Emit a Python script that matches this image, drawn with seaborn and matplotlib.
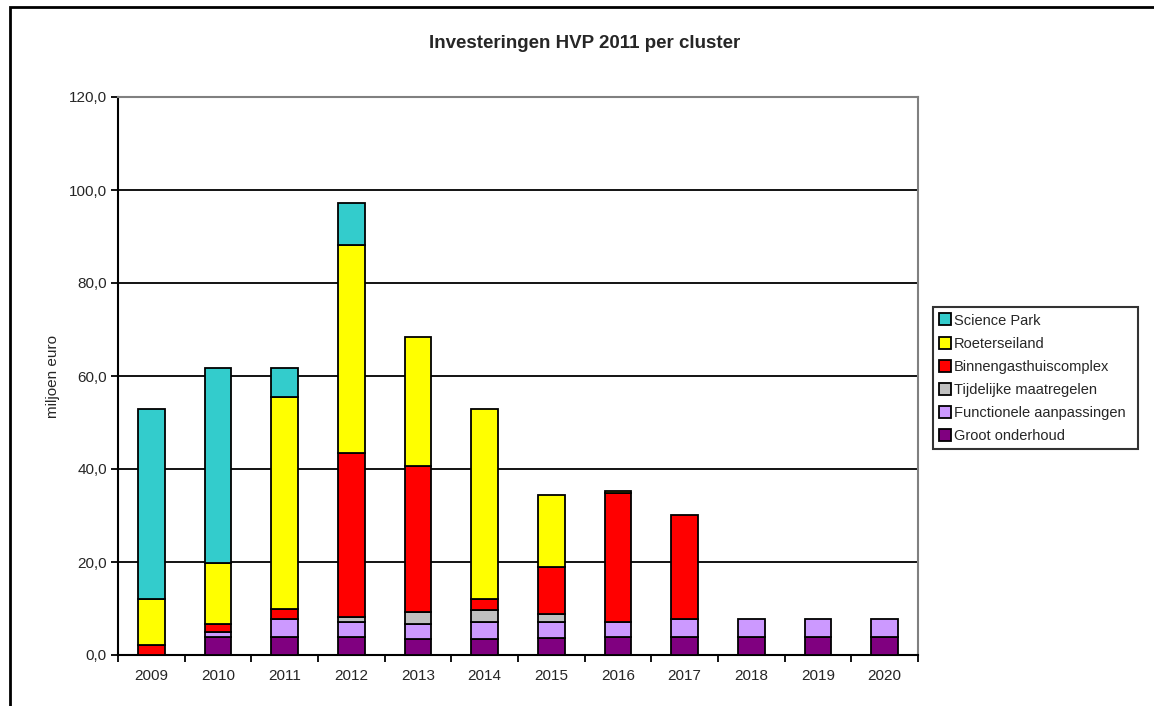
import numpy as np
import pandas as pd
import matplotlib
matplotlib.use("Agg")
import matplotlib.pyplot as plt
import seaborn as sns
from matplotlib.lines import Line2D
from matplotlib.patches import Rectangle
from matplotlib.ticker import FuncFormatter, FixedLocator

# ---- data ----
years = ["2009", "2010", "2011", "2012", "2013", "2014",
         "2015", "2016", "2017", "2018", "2019", "2020"]
groot_onderhoud = [0.0, 3.9, 3.9, 3.9, 3.4, 3.4, 3.6, 3.9, 3.9, 3.9, 3.9, 3.9]
functionele_aanpassingen = [0.0, 1.0, 3.8, 3.2, 3.2, 3.6, 3.4, 3.2, 3.8, 3.8, 3.8, 3.8]
tijdelijke_maatregelen = [0.0, 0.0, 0.0, 1.1, 2.6, 2.7, 1.8, 0.0, 0.0, 0.0, 0.0, 0.0]
binnengasthuiscomplex = [2.1, 1.8, 2.2, 35.3, 31.5, 2.4, 10.1, 27.7, 22.5, 0.0, 0.0, 0.0]
roeterseiland = [9.9, 13.1, 45.6, 44.6, 27.6, 40.7, 15.5, 0.5, 0.0, 0.0, 0.0, 0.0]
science_park = [40.8, 42.0, 6.3, 9.0, 0.0, 0.0, 0.0, 0.0, 0.0, 0.0, 0.0, 0.0]

series_names = ["Groot onderhoud", "Functionele aanpassingen", "Tijdelijke maatregelen",
                "Binnengasthuiscomplex", "Roeterseiland", "Science Park"]
series_values = [groot_onderhoud, functionele_aanpassingen, tijdelijke_maatregelen,
                 binnengasthuiscomplex, roeterseiland, science_park]
series_colors = ["#800080", "#CC99FF", "#C0C0C0", "#FF0000", "#FFFF00", "#33CCCC"]

title = "Investeringen HVP 2011 per cluster"
ylabel = "miljoen euro"

# ---- styling ----
sns.set_theme(style="white")
plt.rcParams["font.family"] = ["Liberation Sans", "DejaVu Sans"]

fig = plt.figure(figsize=(11.54, 7.06), dpi=100)
ax = fig.add_axes([118 / 1154, 1 - 655 / 706, 800 / 1154, 558 / 706])

bottom = np.zeros(len(years))
for name, vals, col in zip(series_names, series_values, series_colors):
    vals = np.asarray(vals, dtype=float)
    mask = vals > 0
    df = pd.DataFrame({"year": np.array(years)[mask], "value": vals[mask]})
    sns.barplot(data=df, x="year", y="value", order=years, color=col,
                saturation=1, width=0.4, edgecolor="black", linewidth=1.3,
                bottom=bottom[mask], errorbar=None, ax=ax, zorder=3)
    bottom = bottom + vals

ax.set_ylim(0, 120)
ax.set_xlim(-0.5, len(years) - 0.5)
ax.set_yticks(np.arange(0, 121, 20))
ax.yaxis.set_major_formatter(FuncFormatter(lambda v, p: f"{v:.1f}".replace(".", ",")))
ax.grid(axis="y", color="black", linewidth=1.3, zorder=0)
ax.set_axisbelow(True)
ax.set_xlabel("")
ax.set_ylabel(ylabel, fontsize=11, labelpad=6)

for s in ["left", "bottom"]:
    ax.spines[s].set_color("black")
    ax.spines[s].set_linewidth(1.5)
for s in ["top", "right"]:
    ax.spines[s].set_color("#808080")
    ax.spines[s].set_linewidth(1.5)

ax.tick_params(axis="y", which="major", direction="out", length=5, width=1.3,
               color="black", labelsize=11, pad=3, left=True)
ax.tick_params(axis="x", which="major", length=0, labelsize=11, pad=10)
ax.xaxis.set_minor_locator(FixedLocator(np.arange(-0.5, len(years), 1.0)))
ax.tick_params(axis="x", which="minor", direction="out", length=5, width=1.3,
               color="black", bottom=True)

fig.text(585 / 1154, 1 - 43 / 706, title, ha="center", va="center",
         fontsize=13.5, fontweight="bold")

# legend (top to bottom: last series first)
handles = [Line2D([0], [0], marker="s", linestyle="none", markersize=8,
                  markerfacecolor=c, markeredgecolor="black", markeredgewidth=1.3)
           for c in series_colors[::-1]]
leg = fig.legend(handles, series_names[::-1], loc="upper left",
                 bbox_to_anchor=(933 / 1154, 1 - 447 / 706, 205 / 1154, 140 / 706),
                 mode="expand", fontsize=10.5,
                 frameon=True, fancybox=False, edgecolor="black",
                 handlelength=0.7, handletextpad=0.3, labelspacing=0.62,
                 borderpad=0.45, borderaxespad=0)
leg.get_frame().set_linewidth(1.5)

# outer frame
fig.add_artist(Rectangle((10 / 1154, -0.05), 1.5, 1 - 7 / 706 + 0.05,
                         transform=fig.transFigure, fill=False,
                         edgecolor="black", linewidth=2))

fig.savefig("out.png", dpi=100)
